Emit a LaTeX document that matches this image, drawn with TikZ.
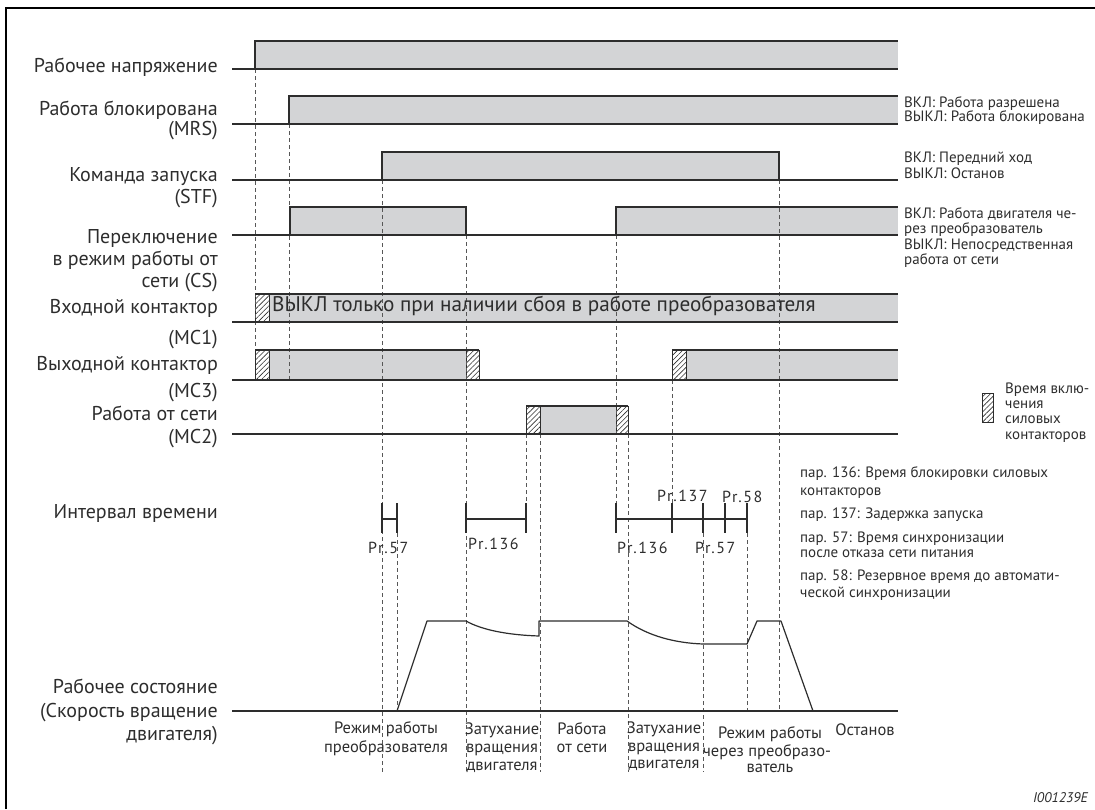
\documentclass[tikz,border=0pt]{standalone}
\usepackage{fontspec}
\setmainfont{PT Sans}
\newfontfamily\prfont[LetterSpace=10]{PT Sans}
\usetikzlibrary{patterns.meta}
\definecolor{sgrey}{RGB}{211,212,214}
\definecolor{ink}{RGB}{45,45,45}
\begin{document}
\begin{tikzpicture}[x=1pt,y=-1pt,
  lbl/.style={font=\fontsize{20}{21}\selectfont, inner sep=0pt, anchor=base east, text=ink},
  note/.style={font=\fontsize{15}{16}\selectfont, inner sep=0pt, anchor=base west, text=ink},
  blbl/.style={font=\fontsize{16.5}{17}\selectfont, inner sep=0pt, anchor=base, text=ink},
  prl/.style={font=\prfont\fontsize{16}{17}\selectfont, inner sep=0pt, anchor=base west, text=ink},
  sig/.style={draw=ink, line width=1.2pt},
  band/.style={fill=sgrey},
  hatch/.style={draw=ink, line width=1pt, pattern={Lines[angle=45,distance=3.6pt,line width=0.6pt]}, pattern color=ink},
  guide/.style={draw=ink!80, line width=0.8pt, dash pattern=on 3.5pt off 3.5pt},
  tick/.style={draw=ink, line width=1.2pt}
]
\useasboundingbox (0,0) rectangle (1095,809);
% frame
\draw[line width=2pt, black] (6,809) -- (6,8) -- (1095,8);

% ---------- grey bands ----------
\fill[band] (255,41) rectangle (898,69);
\fill[band] (289,96) rectangle (898,124);
\fill[band] (382,152) rectangle (779,180);
\fill[band] (290,207) rectangle (466,235);
\fill[band] (616,207) rectangle (898,235);
\fill[band] (269,294) rectangle (898,322);
\fill[band] (269,350) rectangle (466,380);
\fill[band] (686,350) rectangle (898,380);
\fill[band] (540,406) rectangle (616,434);

% ---------- hatch boxes ----------
\draw[hatch] (255,294) rectangle (269,322);
\draw[hatch] (255,350) rectangle (269,380);
\draw[hatch] (466,350) rectangle (479,380);
\draw[hatch] (672,350) rectangle (686,380);
\draw[hatch] (526,406) rectangle (540,434);
\draw[hatch] (616,406) rectangle (628,434);
\draw[hatch] (982,393) rectangle (993,422);

% ---------- dashed guides ----------
\draw[guide] (255,69) -- (255,350);
\draw[guide] (289,124) -- (289,380);
\draw[guide] (382,180) -- (382,772);
\draw[guide] (397,533) -- (397,711);
\draw[guide] (466,235) -- (466,772);
\draw[guide] (526,434) -- (526,503);
\draw[guide] (540,434) -- (540,772);
\draw[guide] (616,235) -- (616,503);
\draw[guide] (628,434) -- (628,772);
\draw[guide] (672,380) -- (672,503);
\draw[guide] (703,533) -- (703,772);
\draw[guide] (747,533) -- (747,711);
\draw[guide] (779,180) -- (779,711);

% ---------- signal lines ----------
% supply
\draw[sig] (232,69) -- (898,69);
\draw[sig] (255,69) -- (255,41) -- (898,41);
% MRS
\draw[sig] (232,124) -- (898,124);
\draw[sig] (289,124) -- (289,96) -- (898,96);
% STF
\draw[sig] (232,180) -- (898,180);
\draw[sig] (382,180) -- (382,152) -- (779,152) -- (779,180);
% CS
\draw[sig] (232,235) -- (898,235);
\draw[sig] (290,235) -- (290,207) -- (466,207) -- (466,235);
\draw[sig] (616,235) -- (616,207) -- (898,207);
% MC1
\draw[sig] (232,322) -- (898,322);
\draw[sig] (255,294) -- (898,294);
% MC3
\draw[sig] (232,380) -- (898,380);
\draw[sig] (255,350) -- (479,350);
\draw[sig] (672,350) -- (898,350);
% MC2
\draw[sig] (232,434) -- (898,434);
\draw[sig] (526,406) -- (628,406);
% speed
\draw[sig] (232,711) -- (898,711);
\draw[sig, line join=round] (397,711) -- (427,621) -- (466,621)
  .. controls (482,630) and (508,635) .. (539,636) -- (539,621) -- (627,621)
  .. controls (648,636) and (675,643) .. (703,644) -- (747,644) -- (757,621)
  -- (781,621) -- (813,711);

% ---------- time intervals ----------
\draw[tick] (382,519) -- (397,519);
\draw[tick] (382,503) -- (382,533);
\draw[tick] (397,503) -- (397,533);
\draw[tick] (466,519) -- (526,519);
\draw[tick] (466,503) -- (466,533);
\draw[tick] (526,503) -- (526,533);
\draw[tick] (616,519) -- (747,519);
\foreach \t in {616,672,703,725,747} \draw[tick] (\t,503) -- (\t,533);

% ---------- left labels ----------
\node[lbl] (l1) at (218,72.5) {Рабочее напряжение};
\node[lbl] (l2a) at (218,115) {Работа блокирована};
\node[lbl] (l2b) at (218,135) {(MRS)};
\node[lbl] (l3a) at (218,181) {Команда запуска};
\node[lbl] (l3b) at (218,203) {(STF)};
\node[lbl] (l4a) at (218,243) {Переключение};
\node[lbl] (l4b) at (218,265) {в режим работы от};
\node[lbl] (l4c) at (218,287) {сети (CS)};
\node[lbl] (l5a) at (218,313) {Входной контактор};
\node[lbl] (l5b) at (218,344) {(MC1)};
\node[lbl] (l6a) at (218,370) {Выходной контактор};
\node[lbl] (l6b) at (218,397) {(MC3)};
\node[lbl] (l7a) at (218,420) {Работа от сети};
\node[lbl] (l7b) at (218,443) {(MC2)};
\node[lbl] (l8) at (218,518) {Интервал времени};
\node[lbl] (l9a) at (218,693) {Рабочее состояние};
\node[lbl] (l9b) at (218,717) {(Скорость вращение};
\node[lbl] (l9c) at (218,740) {двигателя)};

\node[lbl, anchor=base west, font=\fontsize{21.2}{22}\selectfont] (mc1t) at (272,311) {ВЫКЛ только при наличии сбоя в работе преобразователя};

% ---------- right notes ----------
\node[note] (r1a) at (904,107) {ВКЛ: Работа разрешена};
\node[note] (r1b) at (904,121) {ВЫКЛ: Работа блокирована};
\node[note] (r2a) at (904,162) {ВКЛ: Передний ход};
\node[note] (r2b) at (904,178) {ВЫКЛ: Останов};
\node[note] (r3a) at (904,218) {ВКЛ: Работа двигателя че-};
\node[note] (r3b) at (904,233) {рез преобразователь};
\node[note] (r3c) at (904,249) {ВЫКЛ: Непосредственная};
\node[note] (r3d) at (904,264) {работа от сети};

\node[note] (h1) at (1005,393) {Время вклю-};
\node[note] (h2) at (1005,408) {чения};
\node[note] (h3) at (1005,423) {силовых};
\node[note] (h4) at (1005,439) {контакторов};

\node[note] (p1a) at (800,477) {пар. 136: Время блокировки силовых};
\node[note] (p1b) at (800,495) {контакторов};
\node[note] (p2) at (800,518) {пар. 137: Задержка запуска};
\node[note] (p3a) at (800,542) {пар. 57: Время синхронизации};
\node[note] (p3b) at (800,557) {после отказа сети питания};
\node[note] (p4a) at (800,580) {пар. 58: Резервное время до автомати-};
\node[note] (p4b) at (800,597) {ческой синхронизации};

% ---------- Pr labels ----------
\node[prl] (pr1) at (368,553) {Pr.57};
\node[prl] (pr2) at (468,549) {Pr.136};
\node[prl] (pr3) at (617,553) {Pr.136};
\node[prl] (pr4) at (657,501) {Pr.137};
\node[prl] (pr5) at (722,502) {Pr.58};
\node[prl] (pr6) at (695,553) {Pr.57};

% ---------- bottom labels ----------
\node[blbl] (b1a) at (386,733) {Режим работы};
\node[blbl] (b1b) at (386,752) {преобразователя};
\node[blbl] (b2a) at (502,734) {Затухание};
\node[blbl] (b2b) at (502,752) {вращения};
\node[blbl] (b2c) at (502,770) {двигателя};
\node[blbl] (b3a) at (582,734) {Работа};
\node[blbl] (b3b) at (582,752) {от сети};
\node[blbl] (b4a) at (664,733) {Затухание};
\node[blbl] (b4b) at (664,751) {вращения};
\node[blbl] (b4c) at (664,768) {двигателя};
\node[blbl] (b5a) at (770,738) {Режим работы};
\node[blbl] (b5b) at (767,756) {через преобразо-};
\node[blbl] (b5c) at (770,772) {ватель};
\node[blbl] (b6) at (865,735) {Останов};

\node[note, anchor=base east, font=\fontsize{14}{15}\selectfont\itshape] (id) at (1088,802) {I001239E};
\end{tikzpicture}
\end{document}
